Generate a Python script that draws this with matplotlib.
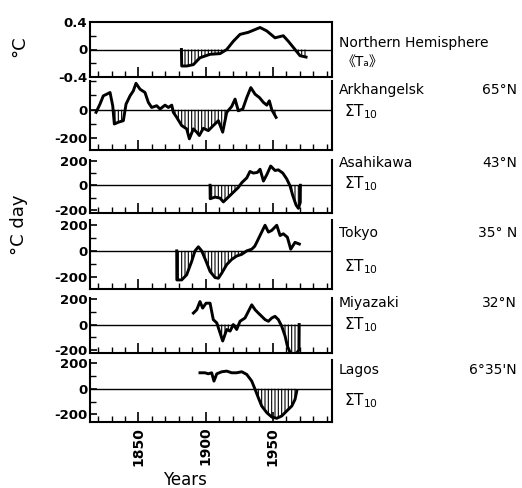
import numpy as np
import matplotlib
matplotlib.use("Agg")
import matplotlib.pyplot as plt
from matplotlib.ticker import MultipleLocator

plt.rcParams['font.family'] = ['DejaVu Sans', 'Noto Sans CJK SC']
plt.rcParams['hatch.linewidth'] = 0.8

# Northern Hemisphere mean temperature anomaly (deg C)
nh_years = [1882, 1882.2, 1886, 1890.9, 1895.8, 1903.3, 1910.7, 1915.7, 1920.6, 1925.6,
            1931.8, 1935.5, 1940.5, 1945.5, 1951.6, 1957.8, 1961.5, 1966.5, 1970.2, 1974.7]
nh_vals = [0, -0.24, -0.24, -0.22, -0.12, -0.07, -0.06, 0.0, 0.12, 0.22,
           0.25, 0.28, 0.32, 0.27, 0.17, 0.20, 0.12, 0.0, -0.09, -0.11]

# Accumulated temperature anomalies (deg C day)
ark_years = [1818.5, 1821.4, 1823.9, 1826.4, 1828.9, 1830.9, 1832.1, 1835, 1838.8, 1840.8,
             1843.8, 1846.2, 1848.2, 1851.2, 1854.9, 1857.4, 1859.9, 1863.6, 1866.1, 1869.8,
             1872.3, 1874.8, 1876, 1878.5, 1882.2, 1885.9, 1887.9, 1890.9, 1893.4, 1895.3,
             1898.3, 1902, 1905.7, 1909.5, 1912.7, 1915.7, 1919.4, 1921.9, 1924.3, 1927.6,
             1930.6, 1933.6, 1936.8, 1940, 1943, 1945.5, 1947.4, 1949.2, 1952.4]
ark_vals = [-18, 39, 97, 108, 120, 28, -99, -87, -76, 39,
            97, 131, 184, 143, 120, 51, 16, 28, 5, 32,
            16, 32, -18, -53, -110, -133, -202, -133, -156, -179,
            -129, -145, -110, -76, -156, -18, 23, 74, -7, 5,
            85, 154, 108, 85, 51, 32, 62, 0, -53]

asa_years = [1903.3, 1903.4, 1907, 1910.7, 1913.2, 1916.9, 1920.6, 1924.3, 1926.9, 1930.6,
             1933, 1935.5, 1938.5, 1940.5, 1943, 1945.5, 1948.4, 1951.6, 1954.1, 1957.4,
             1960.3, 1962.8, 1964.8, 1967.3, 1969, 1970.4, 1970.5]
asa_vals = [0, -109, -96, -104, -135, -96, -57, -18, 21, 60,
            112, 99, 104, 130, 34, 86, 156, 120, 125, 99,
            52, -5, -83, -161, -187, -140, 0]

tok_years = [1878.5, 1878.6, 1882.2, 1885.9, 1889.7, 1892.1, 1894.6, 1897.1, 1900.3, 1903.3,
             1907, 1909.5, 1912, 1915.7, 1919.4, 1923.1, 1926.9, 1930.6, 1934.3, 1936.5,
             1938, 1941.7, 1944.2, 1946.7, 1949.2, 1952.9, 1955.4, 1957.8, 1960.8, 1963.3,
             1966.5, 1969.7]
tok_vals = [0, -221, -221, -182, -78, 0, 31, 0, -78, -156,
            -203, -208, -169, -104, -65, -39, -26, 0, 13, 35,
            65, 143, 195, 143, 156, 195, 117, 130, 104, 13,
            65, 52]

miy_years = [1890.9, 1893.4, 1895.8, 1897.8, 1900.3, 1903.3, 1905.7, 1908.3, 1910.7, 1912.7,
             1915.7, 1918.2, 1920.6, 1923.1, 1925.6, 1929.3, 1931.8, 1934.3, 1936.8, 1939.2,
             1941.7, 1944.2, 1946.7, 1949.2, 1951.6, 1954.1, 1956.6, 1959.1, 1960.8, 1962.8,
             1965.3, 1967.8, 1969.5, 1969.6]
miy_vals = [91, 117, 182, 130, 169, 169, 39, 13, -65, -130,
            -39, -52, 0, -39, 26, 52, 104, 156, 117, 91,
            65, 39, 26, 52, 65, 39, -13, -91, -170, -220,
            -235, -225, -200, 0]

lag_years = [1895.8, 1899.5, 1902, 1904.5, 1906.2, 1908.3, 1912, 1915.7, 1919.4, 1923.1,
             1926.9, 1930.6, 1934.3, 1936.8, 1939.2, 1941.7, 1945.5, 1949.2, 1952.9, 1956.6,
             1960.3, 1964.1, 1966.5, 1967.8]
lag_vals = [125, 125, 117, 125, 60, 117, 133, 138, 125, 125,
            133, 112, 60, -5, -70, -135, -187, -221, -231, -213,
            -174, -135, -83, -18]

W, H = 522, 488
fig = plt.figure(figsize=(W / 100, H / 100), dpi=100)


def rect(top, bottom):
    return [90 / W, 1 - bottom / H, 242 / W, (bottom - top) / H]


panels = [
    (nh_years, nh_vals, rect(22, 77), (-0.4, 0.4), [-0.4, 0, 0.4], ['-0.4', '0', '0.4'], 0.2),
    (ark_years, ark_vals, rect(81, 150), (-280, 200), [-200, 0], ['-200', '0'], 100),
    (asa_years, asa_vals, rect(160, 213), (-225, 205), [-200, 0, 200], ['-200', '0', '200'], 100),
    (tok_years, tok_vals, rect(220, 289), (-290, 235), [-200, 0, 200], ['-200', '0', '200'], 100),
    (miy_years, miy_vals, rect(298, 353), (-225, 210), [-200, 0, 200], ['-200', '0', '200'], 100),
    (lag_years, lag_vals, rect(360, 422), (-260, 225), [-200, 0, 200], ['-200', '0', '200'], 100),
]

for i, (xs, ys, r, ylim, yt, ytl, ystep) in enumerate(panels):
    ax = fig.add_axes(r)
    xs = np.array(xs)
    ys = np.array(ys)
    ax.axhline(0, color='k', lw=1.0)
    ax.fill_between(xs, ys, 0, where=ys <= 0, interpolate=True, facecolor='white',
                    edgecolor='k', hatch='|||||', lw=0)
    ax.plot(xs, ys, color='k', lw=2.1, solid_joinstyle='round')
    ax.set_xlim(1814, 1994)
    ax.set_ylim(*ylim)
    ax.set_xticks([1850, 1900, 1950])
    ax.xaxis.set_minor_locator(MultipleLocator(10))
    ax.set_yticks(yt)
    ax.set_yticklabels(ytl, fontsize=9.5, fontweight='bold')
    ax.yaxis.set_minor_locator(MultipleLocator(ystep))
    ax.tick_params(which='major', direction='in', length=7, width=1.2)
    ax.tick_params(which='minor', direction='in', length=4, width=1.0)
    ax.tick_params(axis='y', which='major', length=5, pad=2)
    for s in ax.spines.values():
        s.set_linewidth(1.5)
    if i > 0:
        ax.spines['top'].set_visible(False)
    if i < len(panels) - 1:
        ax.set_xticklabels([])
    else:
        ax.set_xticklabels(['1850', '1900', '1950'], rotation=90, fontsize=10, fontweight='bold')

# axis titles
fig.text(19 / W, 1 - 46 / H, '°C', rotation=90, ha='center', va='center', fontsize=13)
fig.text(19 / W, 1 - 225 / H, '°C day', rotation=90, ha='center', va='center', fontsize=13)
fig.text(185 / W, 1 - 480 / H, 'Years', ha='center', va='center', fontsize=12)

# station labels
names = ['Northern Hemisphere', 'Arkhangelsk', 'Asahikawa', 'Tokyo', 'Miyazaki', 'Lagos']
name_y = [43, 90, 163, 233, 303, 370]
lats = ['', '65°N', '43°N', '35° N', '32°N', '6°35\'N']
sum_y = [62, 112, 184, 267, 325, 401]

for k in range(len(names)):
    fig.text(339 / W, 1 - name_y[k] / H, names[k], ha='left', va='center', fontsize=10)
    if lats[k]:
        fig.text(517 / W, 1 - name_y[k] / H, lats[k], ha='right', va='center', fontsize=10)
    if k == 0:
        fig.text(342 / W, 1 - sum_y[k] / H, '《Tₐ》', ha='left', va='center', fontsize=10)
    else:
        fig.text(344 / W, 1 - sum_y[k] / H, '$\\mathregular{\\Sigma T_{10}}$', ha='left',
                 va='center', fontsize=11)

fig.savefig('out.png', dpi=100, facecolor='white')
